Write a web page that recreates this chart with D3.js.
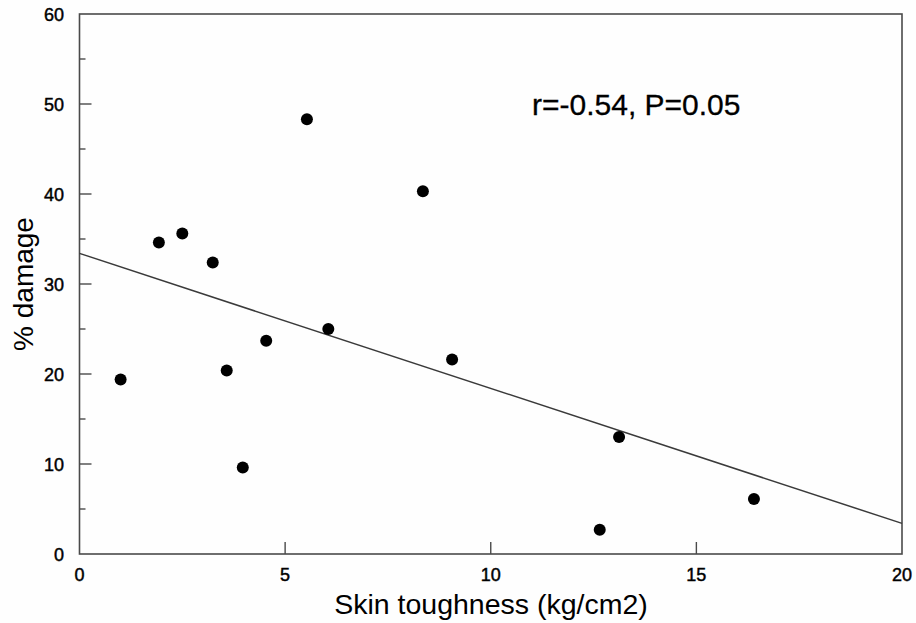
<!DOCTYPE html>
<html>
<head>
<meta charset="utf-8">
<script src="https://cdn.jsdelivr.net/npm/d3@7"></script>
<style>
  html, body { margin: 0; padding: 0; background: #fefefe; }
  svg { display: block; }
  text { font-family: "Liberation Sans", Arial, Helvetica, sans-serif; fill: #000; }
</style>
</head>
<body>
<svg id="chart" width="916" height="623"></svg>
<script>
// Data
const toughness = [1.0, 1.93, 2.5, 3.24, 3.58, 3.97, 4.54, 5.53, 6.05, 8.35, 9.06, 12.65, 13.12, 16.4];
const damage    = [19.4, 34.6, 35.6, 32.4, 20.4, 9.6, 23.7, 48.3, 25.0, 40.3, 21.6, 2.7, 13.0, 6.1];
const fitX = [0, 20];
const fitY = [33.4, 3.4];
const xTicks = [0, 5, 10, 15, 20];
const yTicks = [0, 10, 20, 30, 40, 50, 60];
const yMinorTicks = [5, 15, 25, 35, 45, 55];
const statsLabel = "r=-0.54, P=0.05";
const xTitle = "Skin toughness (kg/cm2)";
const yTitle = "% damage";

const svg = d3.select("#chart");
const x = d3.scaleLinear().domain([0, 20]).range([79.5, 902]);
const y = d3.scaleLinear().domain([0, 60]).range([554, 14]);
const axisColor = "#4a4a4a";

// Frame
svg.append("rect")
  .attr("x", x(0)).attr("y", y(60))
  .attr("width", x(20) - x(0)).attr("height", y(0) - y(60))
  .attr("fill", "none").attr("stroke", axisColor).attr("stroke-width", 1.6);

// Y ticks (inward)
svg.append("g").selectAll("line.ymaj").data(yTicks.filter(d => d > 0 && d < 60)).join("line")
  .attr("x1", x(0)).attr("x2", x(0) + 12)
  .attr("y1", d => y(d)).attr("y2", d => y(d))
  .attr("stroke", axisColor).attr("stroke-width", 1.4);
svg.append("g").selectAll("line.ymin").data(yMinorTicks).join("line")
  .attr("x1", x(0)).attr("x2", x(0) + 6)
  .attr("y1", d => y(d)).attr("y2", d => y(d))
  .attr("stroke", axisColor).attr("stroke-width", 1.4);

// X ticks (inward)
svg.append("g").selectAll("line.xmaj").data(xTicks.filter(d => d > 0 && d < 20)).join("line")
  .attr("x1", d => x(d)).attr("x2", d => x(d))
  .attr("y1", y(0)).attr("y2", y(0) - 12)
  .attr("stroke", axisColor).attr("stroke-width", 1.4);

// Tick labels
svg.append("g").selectAll("text").data(yTicks).join("text")
  .attr("x", 64).attr("y", d => y(d) + 6.5)
  .attr("text-anchor", "end").attr("font-size", 18)
  .attr("stroke", "#000").attr("stroke-width", 0.45)
  .text(d => d);
svg.append("g").selectAll("text").data(xTicks).join("text")
  .attr("x", d => x(d)).attr("y", 581)
  .attr("text-anchor", "middle").attr("font-size", 18)
  .attr("stroke", "#000").attr("stroke-width", 0.45)
  .text(d => d);

// Regression line
svg.append("line")
  .attr("x1", x(fitX[0])).attr("y1", y(fitY[0]))
  .attr("x2", x(fitX[1])).attr("y2", y(fitY[1]))
  .attr("stroke", "#3a3a3a").attr("stroke-width", 1.5);

// Points
svg.append("g").selectAll("circle").data(toughness.map((t, i) => [t, damage[i]])).join("circle")
  .attr("cx", d => x(d[0])).attr("cy", d => y(d[1]))
  .attr("r", 6).attr("fill", "#000");

// Stats annotation
svg.append("text")
  .attr("x", 532).attr("y", 115)
  .attr("font-size", 30)
  .attr("stroke", "#000").attr("stroke-width", 0.3)
  .text(statsLabel);

// Axis titles
svg.append("text")
  .attr("x", 491).attr("y", 614)
  .attr("text-anchor", "middle").attr("font-size", 28.5)
  .text(xTitle);
svg.append("text")
  .attr("transform", "translate(33,284) rotate(-90)")
  .attr("text-anchor", "middle").attr("font-size", 28)
  .text(yTitle);
</script>
</body>
</html>
